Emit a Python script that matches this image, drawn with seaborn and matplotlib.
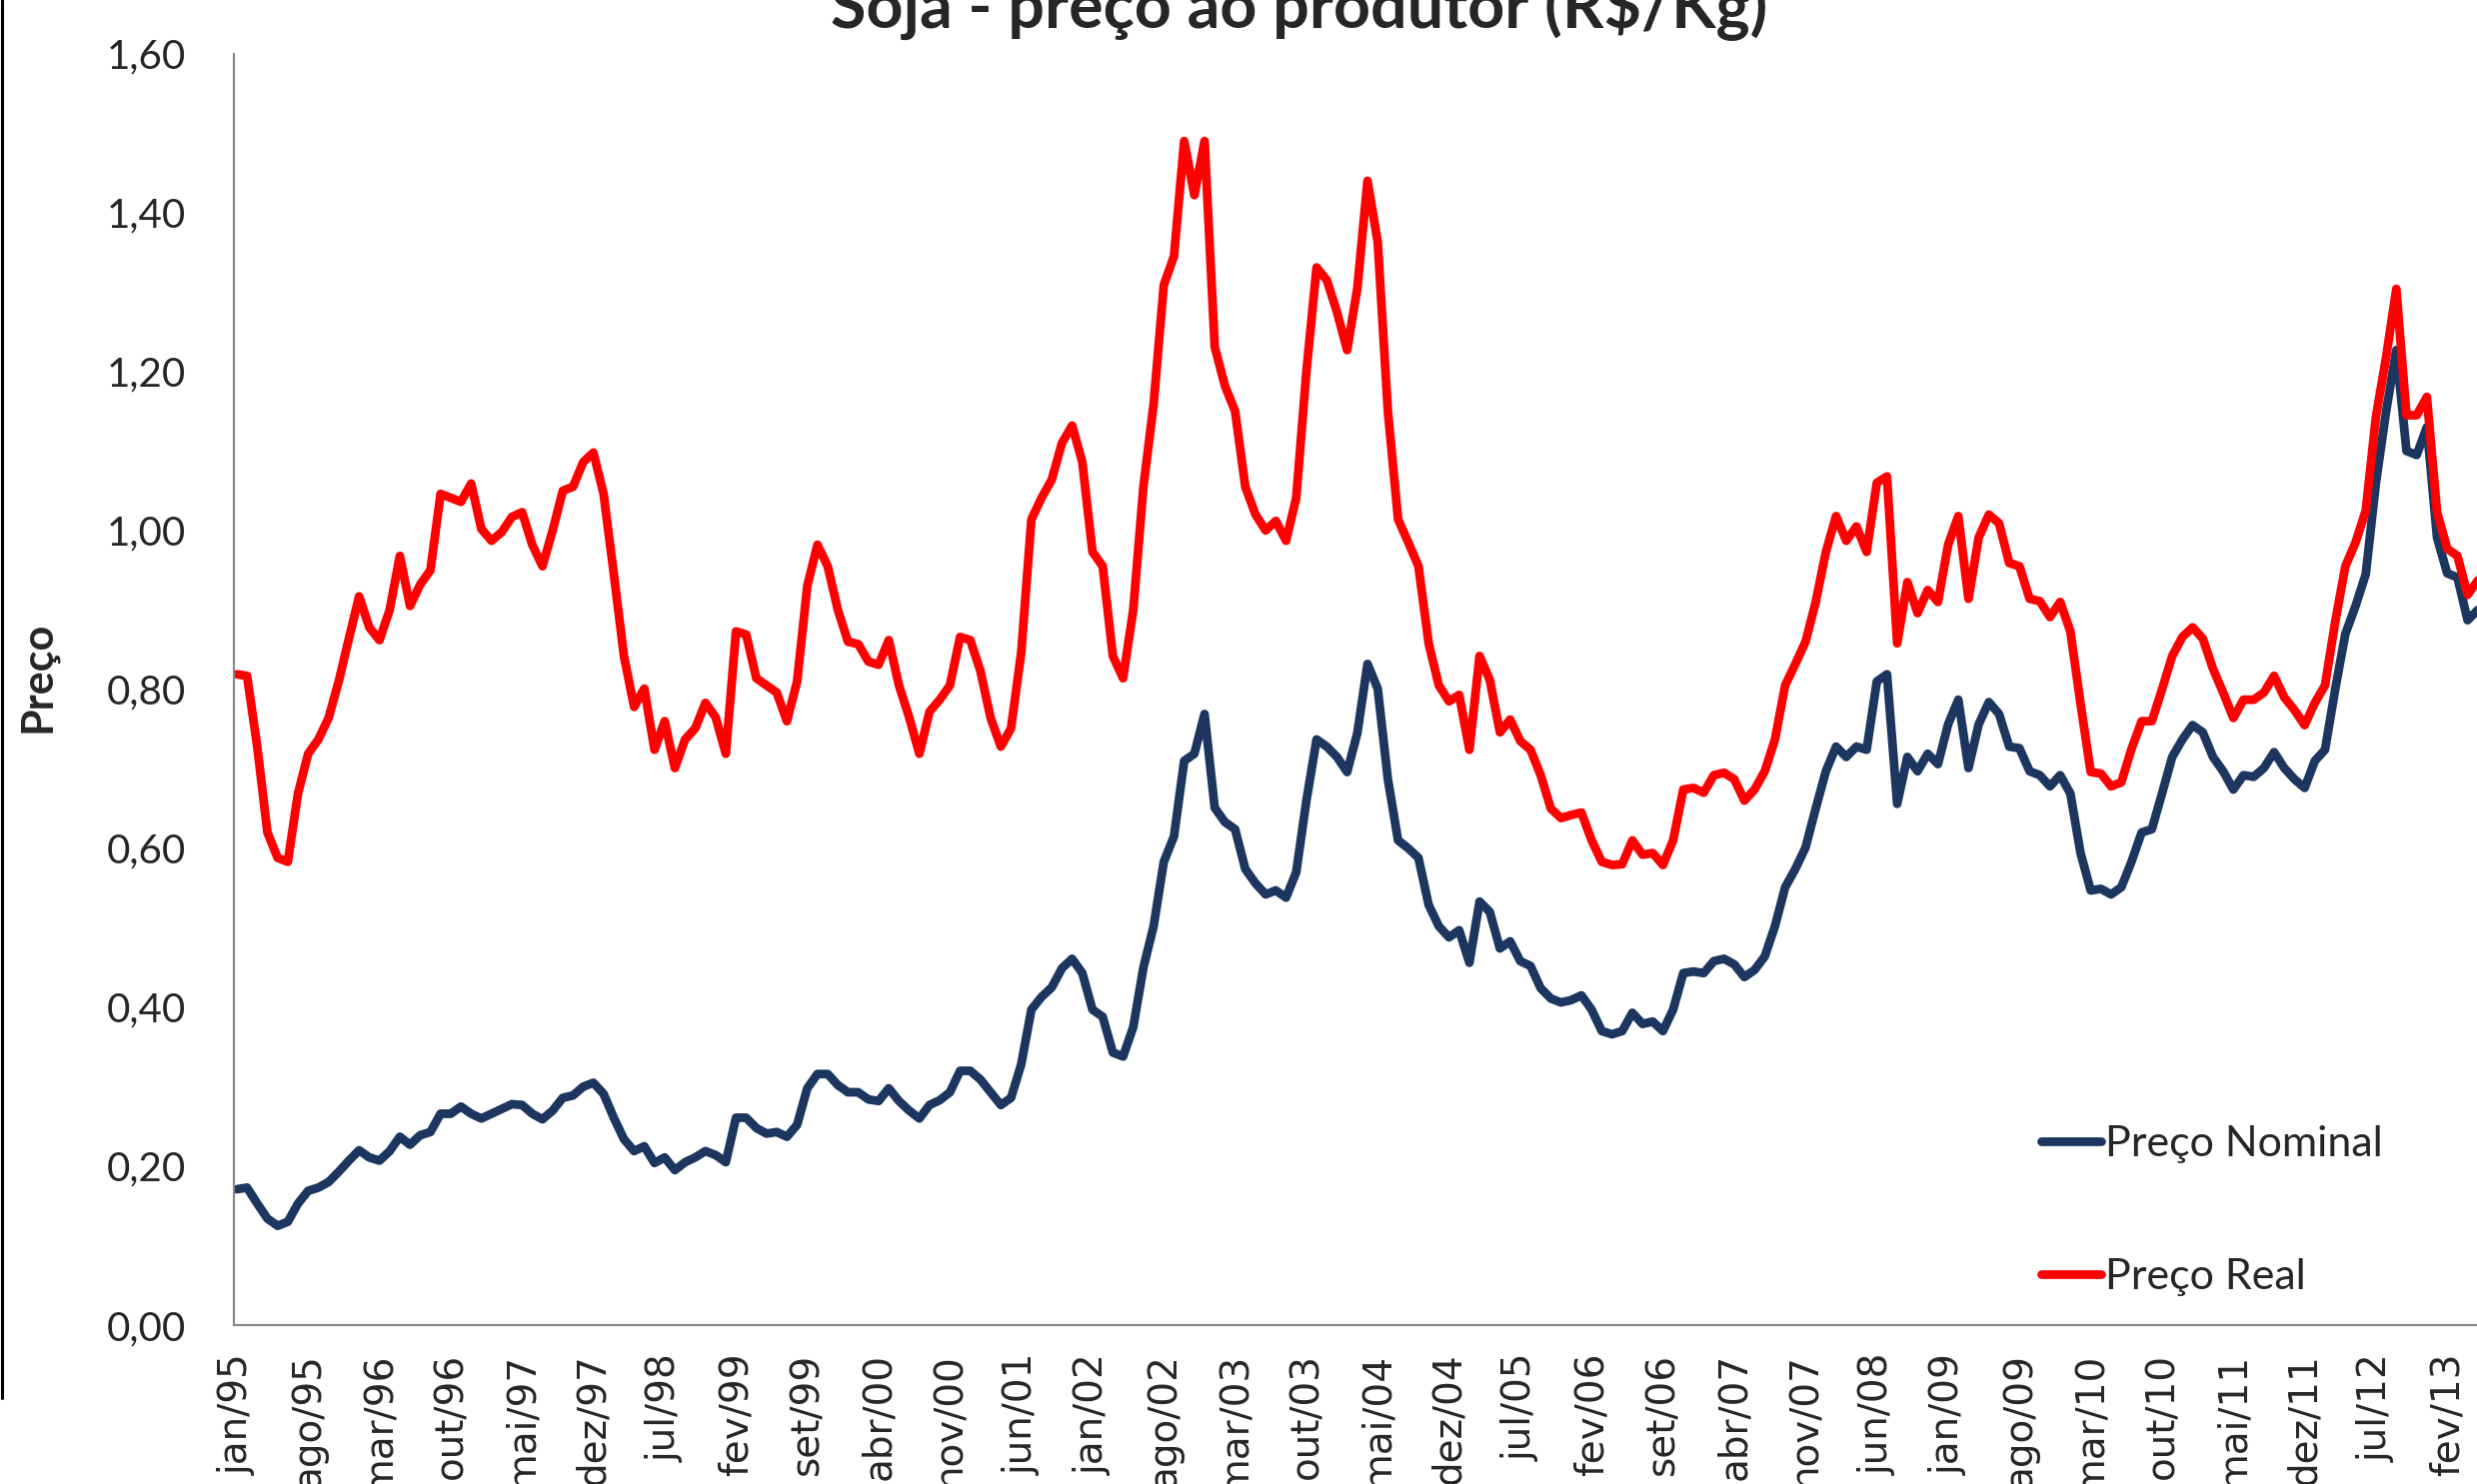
import numpy as np
import pandas as pd
import seaborn as sns
import matplotlib.pyplot as plt
from matplotlib.lines import Line2D
from matplotlib.ticker import FuncFormatter

# month categories jan/95 ... mai/13
MESES = ["jan", "fev", "mar", "abr", "mai", "jun", "jul", "ago", "set", "out", "nov", "dez"]
categorias = [f"{MESES[k % 12]}/{(95 + k // 12) % 100:02d}" for k in range(221)]

# R$/kg, one row per year
preco_nominal = [
    0.171, 0.173, 0.153, 0.134, 0.125, 0.130, 0.153, 0.169, 0.173, 0.180, 0.193, 0.207,
    0.220, 0.211, 0.207, 0.219, 0.237, 0.227, 0.239, 0.243, 0.266, 0.266, 0.275, 0.266,
    0.260, 0.266, 0.272, 0.278, 0.277, 0.266, 0.259, 0.270, 0.286, 0.289, 0.300, 0.305,
    0.291, 0.261, 0.234, 0.219, 0.225, 0.204, 0.211, 0.195, 0.205, 0.211, 0.219, 0.214,
    0.205, 0.261, 0.261, 0.248, 0.241, 0.243, 0.237, 0.252, 0.298, 0.316, 0.316, 0.302,
    0.293, 0.293, 0.284, 0.282, 0.298, 0.282, 0.270, 0.260, 0.277, 0.283, 0.293, 0.320,
    0.320, 0.309, 0.293, 0.277, 0.286, 0.328, 0.397, 0.413, 0.425, 0.449, 0.461, 0.443,
    0.397, 0.388, 0.343, 0.338, 0.375, 0.450, 0.502, 0.583, 0.615, 0.710, 0.719, 0.769,
    0.651, 0.633, 0.624, 0.574, 0.556, 0.542, 0.547, 0.538, 0.570, 0.660, 0.737, 0.728,
    0.715, 0.696, 0.745, 0.832, 0.801, 0.687, 0.610, 0.600, 0.588, 0.529, 0.502, 0.488,
    0.497, 0.456, 0.533, 0.520, 0.474, 0.483, 0.458, 0.452, 0.424, 0.411, 0.406, 0.409,
    0.415, 0.397, 0.370, 0.366, 0.370, 0.393, 0.379, 0.382, 0.370, 0.397, 0.443, 0.445,
    0.443, 0.458, 0.461, 0.454, 0.438, 0.447, 0.464, 0.502, 0.551, 0.574, 0.601, 0.650,
    0.697, 0.728, 0.715, 0.728, 0.724, 0.810, 0.819, 0.656, 0.715, 0.697, 0.719, 0.706,
    0.756, 0.787, 0.701, 0.756, 0.784, 0.769, 0.728, 0.726, 0.697, 0.692, 0.678, 0.692,
    0.669, 0.594, 0.547, 0.549, 0.542, 0.551, 0.583, 0.620, 0.624, 0.669, 0.715, 0.737,
    0.755, 0.746, 0.715, 0.697, 0.674, 0.692, 0.690, 0.701, 0.721, 0.701, 0.687, 0.676,
    0.710, 0.724, 0.800, 0.870, 0.905, 0.945, 1.060, 1.150, 1.227, 1.100, 1.095, 1.130,
    0.991, 0.946, 0.941, 0.887, 0.900,
]

preco_real = [
    0.819, 0.817, 0.728, 0.620, 0.588, 0.583, 0.669, 0.719, 0.737, 0.764, 0.810, 0.864,
    0.917, 0.878, 0.862, 0.900, 0.968, 0.905, 0.932, 0.950, 1.046, 1.041, 1.036, 1.059,
    1.002, 0.987, 0.998, 1.017, 1.023, 0.982, 0.955, 1.000, 1.050, 1.055, 1.086, 1.098,
    1.046, 0.946, 0.842, 0.778, 0.801, 0.724, 0.760, 0.701, 0.737, 0.751, 0.783, 0.765,
    0.719, 0.873, 0.869, 0.814, 0.805, 0.796, 0.760, 0.810, 0.930, 0.982, 0.955, 0.900,
    0.860, 0.857, 0.835, 0.831, 0.862, 0.805, 0.765, 0.719, 0.772, 0.787, 0.805, 0.866,
    0.862, 0.823, 0.764, 0.728, 0.751, 0.846, 1.014, 1.041, 1.064, 1.110, 1.132, 1.086,
    0.973, 0.955, 0.842, 0.814, 0.900, 1.055, 1.159, 1.309, 1.345, 1.490, 1.422, 1.490,
    1.231, 1.182, 1.150, 1.055, 1.020, 1.000, 1.012, 0.987, 1.041, 1.200, 1.331, 1.315,
    1.275, 1.227, 1.305, 1.440, 1.363, 1.150, 1.014, 0.985, 0.955, 0.858, 0.805, 0.785,
    0.793, 0.724, 0.842, 0.812, 0.746, 0.762, 0.735, 0.724, 0.692, 0.650, 0.638, 0.642,
    0.645, 0.610, 0.583, 0.579, 0.580, 0.610, 0.592, 0.594, 0.579, 0.610, 0.674, 0.676,
    0.670, 0.692, 0.695, 0.687, 0.660, 0.674, 0.697, 0.737, 0.805, 0.832, 0.860, 0.910,
    0.973, 1.018, 0.987, 1.005, 0.973, 1.060, 1.068, 0.858, 0.935, 0.896, 0.925, 0.910,
    0.982, 1.018, 0.914, 0.991, 1.020, 1.009, 0.959, 0.955, 0.914, 0.911, 0.891, 0.910,
    0.873, 0.782, 0.696, 0.694, 0.678, 0.683, 0.725, 0.760, 0.760, 0.800, 0.842, 0.866,
    0.878, 0.864, 0.826, 0.796, 0.764, 0.787, 0.787, 0.796, 0.817, 0.790, 0.774, 0.755,
    0.783, 0.805, 0.885, 0.955, 0.985, 1.025, 1.143, 1.218, 1.304, 1.145, 1.145, 1.168,
    1.023, 0.977, 0.968, 0.919, 0.937,
]

series = ["Preço Nominal", "Preço Real"]
cores = {"Preço Nominal": "#1c3660", "Preço Real": "#ff0000"}

n = len(categorias)
df = pd.DataFrame({
    "mes": list(range(n)) * 2,
    "preco": preco_nominal + preco_real,
    "serie": [series[0]] * n + [series[1]] * n,
})

sns.set_theme(style="white")
plt.rcParams["font.family"] = ["Lato", "DejaVu Sans"]

W, H = 2478, 1485
fig = plt.figure(figsize=(W / 100, H / 100), dpi=100)
# plot area runs off the right edge, like the cropped original
ax = fig.add_axes([233.5 / W, 1 - 1326 / H, (W - 233.5) / W, (1326 - 53.7) / H])

sns.lineplot(
    data=df, x="mes", y="preco", hue="serie", hue_order=series,
    palette=cores, linewidth=6.3, estimator=None, sort=False,
    legend=False, ax=ax, solid_joinstyle="round", solid_capstyle="round",
)

ax.set_xlim(-0.34, (W - 237) / 10.19)
ax.set_ylim(0, 1.6)
ax.set_yticks(np.arange(0, 1.61, 0.2))
ax.yaxis.set_major_formatter(FuncFormatter(lambda v, p: f"{v:.2f}".replace(".", ",")))
ax.tick_params(axis="y", length=0, pad=34, labelsize=29)

pos = list(range(0, n, 7))
ax.set_xticks(pos)
ax.set_xticklabels([categorias[p] for p in pos], rotation=90, fontsize=28,
                   family="DejaVu Sans")
ax.tick_params(axis="x", length=0, pad=20)

ax.set_xlabel("")
ax.set_ylabel("Preço", fontsize=31, fontweight="bold")
ax.yaxis.set_label_coords(-0.0786, 0.51)

for s in ["top", "right"]:
    ax.spines[s].set_visible(False)
for s in ["left", "bottom"]:
    ax.spines[s].set_color("#868686")
    ax.spines[s].set_linewidth(1.5)

ax.legend(
    handles=ax.lines[:2], labels=series,
    loc="upper left", bbox_to_anchor=(0.824, 0.2416), bbox_transform=fig.transFigure,
    frameon=False, fontsize=31, handlelength=1.4, handletextpad=0.08,
    labelspacing=2.2, borderpad=0, borderaxespad=0,
)

# title sits partly above the crop
fig.text(1300 / W, 1 - 28 / H, "Soja - preço ao produtor (R$/Kg)", ha="center",
         va="baseline", fontsize=46.5, fontweight="bold")

# border of the chart area on the left edge
fig.add_artist(Line2D([1.5 / W, 1.5 / W], [1 - 1399 / H, 1], transform=fig.transFigure,
                      color="black", linewidth=2.2))

fig.savefig("out.png", dpi=100)
